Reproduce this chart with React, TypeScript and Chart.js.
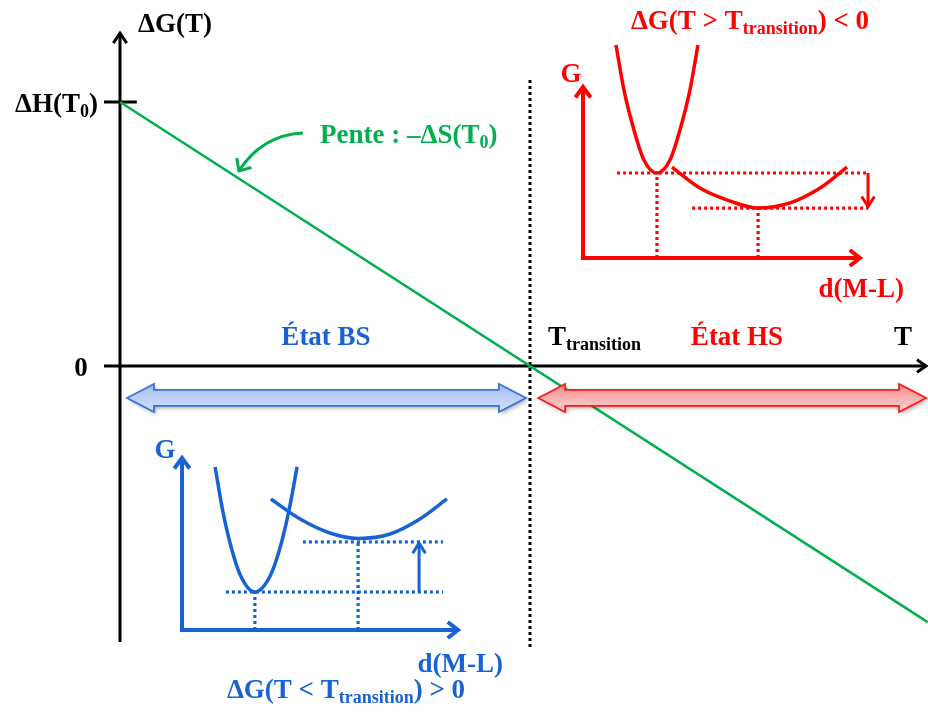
import { useEffect, useRef } from "react";
import { Chart, registerables } from "chart.js";

Chart.register(...registerables);

const W = 928;
const H = 714;

// ---------- Main diagram (T in units of T_transition, ΔG in units of ΔH(T0)) ----------
const GREEN_T = [0, 1.97];
const GREEN_DG = [1, -0.97];
const AXIS_V_T = [0, 0];
const AXIS_V_DG = [-1.045, 1.261];
const AXIS_H_T = [-0.039, 1.966];
const AXIS_H_DG = [0, 0];
const TICK_DH_T = [-0.039, 0.041];
const TICK_DH_DG = [1, 1];
const TRANS_T = [1, 1];
const TRANS_DG = [1.083, -1.064];
const BS_RANGE_T = [0.017, 0.99];
const HS_RANGE_T = [1.02, 1.966];
const STATE_ARROW_DG = -0.121;
const SLOPE_POINTER_T = [0.446, 0.346, 0.29];
const SLOPE_POINTER_DG = [0.883, 0.875, 0.739];

// ---------- Red inset (T > T_transition) : G vs d(M-L) ----------
const RED_AXIS_D = [0, 0, 10];
const RED_AXIS_G = [10, 0, 0];
const RED_LS_D = [1.19, 1.48, 1.84, 2.2, 2.67, 3.14, 3.5, 3.86, 4.15];
const RED_LS_G = [12.46, 9.82, 7.49, 5.73, 4.97, 5.73, 7.49, 9.82, 12.46];
const RED_HS_D = [3.21, 4.22, 5.31, 6.32, 7.47, 8.56, 9.53];
const RED_HS_G = [5.32, 4.09, 3.33, 2.92, 3.22, 4.09, 5.32];
const RED_LS_LEVEL_D = [1.23, 10.29];
const RED_LS_LEVEL_G = [4.97, 4.97];
const RED_HS_LEVEL_D = [3.94, 10.29];
const RED_HS_LEVEL_G = [2.92, 2.92];
const RED_LS_DROP_D = [2.67, 2.67];
const RED_LS_DROP_G = [0, 4.97];
const RED_HS_DROP_D = [6.32, 6.32];
const RED_HS_DROP_G = [0, 2.92];
const RED_DELTA_D = [10.29, 10.29];
const RED_DELTA_G = [4.97, 3.0];

// ---------- Blue inset (T < T_transition) : G vs d(M-L) ----------
const BLUE_AXIS_D = [0, 0, 10];
const BLUE_AXIS_G = [10, 0, 0];
const BLUE_LS_D = [1.2, 1.47, 1.76, 2.11, 2.64, 3.21, 3.58, 3.88, 4.17];
const BLUE_LS_G = [9.48, 6.98, 4.94, 3.2, 2.21, 3.2, 4.94, 6.98, 9.48];
const BLUE_HS_D = [3.22, 4.28, 5.36, 6.38, 7.54, 8.62, 9.6];
const BLUE_HS_G = [7.62, 6.45, 5.64, 5.32, 5.58, 6.45, 7.62];
const BLUE_LS_LEVEL_D = [1.59, 9.46];
const BLUE_LS_LEVEL_G = [2.21, 2.21];
const BLUE_HS_LEVEL_D = [4.38, 9.46];
const BLUE_HS_LEVEL_G = [5.12, 5.12];
const BLUE_LS_DROP_D = [2.64, 2.64];
const BLUE_LS_DROP_G = [0, 2.21];
const BLUE_HS_DROP_D = [6.38, 6.38];
const BLUE_HS_DROP_G = [0, 5.12];
const BLUE_DELTA_D = [8.59, 8.59];
const BLUE_DELTA_G = [2.21, 5.05];

// ---------- Colours ----------
const BLACK = "#000000";
const GREEN = "#00b050";
const RED = "#ff0000";
const BLUE = "#1763d3";
const FONT = '"Liberation Serif", "Times New Roman", serif';

// ---------- Layout: where each frame sits on the canvas ----------
function frame(ox: number, oy: number, ux: number, uy: number) {
  return {
    x: { min: -ox / ux, max: (W - ox) / ux },
    y: { min: -(H - oy) / uy, max: oy / uy },
  };
}
const MAIN_FRAME = frame(120, 366, 410, 264);
const RED_FRAME = frame(583, 258, 27.7, 17.1);
const BLUE_FRAME = frame(182, 630, 27.6, 17.2);

const pts = (xs: number[], ys: number[]) => xs.map((x, i) => ({ x, y: ys[i] }));

type Frame = "main" | "red" | "blue";
const AX: Record<Frame, [string, string]> = {
  main: ["x", "y"],
  red: ["xr", "yr"],
  blue: ["xb", "yb"],
};

function line(
  xs: number[],
  ys: number[],
  f: Frame,
  color: string,
  width: number,
  extra: Record<string, any> = {}
) {
  return {
    data: pts(xs, ys),
    xAxisID: AX[f][0],
    yAxisID: AX[f][1],
    borderColor: color,
    backgroundColor: color,
    borderWidth: width,
    pointRadius: 0,
    pointHoverRadius: 0,
    fill: false,
    tension: 0,
    borderCapStyle: "butt",
    borderJoinStyle: "miter",
    ...extra,
  };
}

const DOT = { borderDash: [3, 3] };
const CURVE = { cubicInterpolationMode: "monotone" };

const datasets: any[] = [
  // main
  line(GREEN_T, GREEN_DG, "main", GREEN, 2.5),
  line(AXIS_V_T, AXIS_V_DG, "main", BLACK, 3, { arrowEnd: [12, 34] }),
  line(AXIS_H_T, AXIS_H_DG, "main", BLACK, 3, { arrowEnd: [11, 34] }),
  line(TICK_DH_T, TICK_DH_DG, "main", BLACK, 3),
  line(TRANS_T, TRANS_DG, "main", BLACK, 3, DOT),
  // red inset
  line(RED_AXIS_D, RED_AXIS_G, "red", RED, 4, { arrowEnd: [13, 38], arrowStart: [13, 36] }),
  line(RED_LS_D, RED_LS_G, "red", RED, 3.5, CURVE),
  line(RED_HS_D, RED_HS_G, "red", RED, 3.5, CURVE),
  line(RED_LS_LEVEL_D, RED_LS_LEVEL_G, "red", RED, 3.2, DOT),
  line(RED_HS_LEVEL_D, RED_HS_LEVEL_G, "red", RED, 3.2, DOT),
  line(RED_LS_DROP_D, RED_LS_DROP_G, "red", RED, 3.2, DOT),
  line(RED_HS_DROP_D, RED_HS_DROP_G, "red", RED, 3.2, DOT),
  line(RED_DELTA_D, RED_DELTA_G, "red", RED, 3, { arrowEnd: [12, 32] }),
  // blue inset
  line(BLUE_AXIS_D, BLUE_AXIS_G, "blue", BLUE, 4, { arrowEnd: [13, 38], arrowStart: [13, 36] }),
  line(BLUE_LS_D, BLUE_LS_G, "blue", BLUE, 3.5, CURVE),
  line(BLUE_HS_D, BLUE_HS_G, "blue", BLUE, 3.5, CURVE),
  line(BLUE_LS_LEVEL_D, BLUE_LS_LEVEL_G, "blue", BLUE, 3.2, DOT),
  line(BLUE_HS_LEVEL_D, BLUE_HS_LEVEL_G, "blue", BLUE, 3.2, DOT),
  line(BLUE_LS_DROP_D, BLUE_LS_DROP_G, "blue", BLUE, 3.2, DOT),
  line(BLUE_HS_DROP_D, BLUE_HS_DROP_G, "blue", BLUE, 3.2, DOT),
  line(BLUE_DELTA_D, BLUE_DELTA_G, "blue", BLUE, 3, { arrowEnd: [12, 32] }),
];

// ---------- Labels (text with _{subscript} markup) ----------
type Label = { t: string; x: number; y: number; align: "left" | "center" | "right"; color: string; size?: number };
const LABELS: Label[] = [
  { t: "ΔG(T)", x: 138, y: 32, align: "left", color: BLACK },
  { t: "ΔH(T_{0})", x: 98, y: 112, align: "right", color: BLACK },
  { t: "0", x: 81, y: 376, align: "center", color: BLACK },
  { t: "Pente : –ΔS(T_{0})", x: 320, y: 143, align: "left", color: GREEN },
  { t: "État BS", x: 326, y: 345, align: "center", color: BLUE },
  { t: "T_{transition}", x: 548, y: 345, align: "left", color: BLACK },
  { t: "État HS", x: 737, y: 345, align: "center", color: RED },
  { t: "T", x: 903, y: 345, align: "center", color: BLACK },
  { t: "ΔG(T > T_{transition}) < 0", x: 750, y: 29, align: "center", color: RED },
  { t: "G", x: 571, y: 82, align: "center", color: RED },
  { t: "d(M-L)", x: 904, y: 297, align: "right", color: RED },
  { t: "G", x: 165, y: 458, align: "center", color: BLUE },
  { t: "d(M-L)", x: 503, y: 672, align: "right", color: BLUE },
  { t: "ΔG(T < T_{transition}) > 0", x: 346, y: 698, align: "center", color: BLUE },
];

function parseRich(t: string) {
  const segs: { s: string; sub: boolean }[] = [];
  const re = /_\{([^}]*)\}/g;
  let last = 0;
  let m: RegExpExecArray | null;
  while ((m = re.exec(t))) {
    if (m.index > last) segs.push({ s: t.slice(last, m.index), sub: false });
    segs.push({ s: m[1], sub: true });
    last = m.index + m[0].length;
  }
  if (last < t.length) segs.push({ s: t.slice(last), sub: false });
  return segs;
}

function drawRich(ctx: CanvasRenderingContext2D, lb: Label) {
  const size = lb.size ?? 27;
  const subSize = Math.round(size * 0.68);
  const segs = parseRich(lb.t);
  const widths = segs.map((sg) => {
    ctx.font = `bold ${sg.sub ? subSize : size}px ${FONT}`;
    return ctx.measureText(sg.s).width;
  });
  const total = widths.reduce((a, b) => a + b, 0);
  let x = lb.align === "left" ? lb.x : lb.align === "center" ? lb.x - total / 2 : lb.x - total;
  ctx.save();
  ctx.fillStyle = lb.color;
  ctx.textAlign = "left";
  ctx.textBaseline = "alphabetic";
  segs.forEach((sg, i) => {
    ctx.font = `bold ${sg.sub ? subSize : size}px ${FONT}`;
    ctx.fillText(sg.s, x, lb.y + (sg.sub ? size * 0.2 : 0));
    x += widths[i];
  });
  ctx.restore();
}

function chevron(
  ctx: CanvasRenderingContext2D,
  tx: number,
  ty: number,
  fx: number,
  fy: number,
  len: number,
  halfDeg: number,
  color: string,
  width: number
) {
  const a = Math.atan2(ty - fy, tx - fx);
  const h = (halfDeg * Math.PI) / 180;
  ctx.save();
  ctx.strokeStyle = color;
  ctx.lineWidth = width;
  ctx.lineJoin = "miter";
  ctx.lineCap = "butt";
  ctx.beginPath();
  ctx.moveTo(tx - len * Math.cos(a - h), ty - len * Math.sin(a - h));
  ctx.lineTo(tx, ty);
  ctx.lineTo(tx - len * Math.cos(a + h), ty - len * Math.sin(a + h));
  ctx.stroke();
  ctx.restore();
}

function fatArrow(
  ctx: CanvasRenderingContext2D,
  x1: number,
  x2: number,
  cy: number,
  top: string,
  bottom: string,
  stroke: string
) {
  const shaftH = 8;
  const headH = 14;
  const headL = 27;
  ctx.save();
  ctx.beginPath();
  ctx.moveTo(x1, cy);
  ctx.lineTo(x1 + headL, cy - headH);
  ctx.lineTo(x1 + headL, cy - shaftH);
  ctx.lineTo(x2 - headL, cy - shaftH);
  ctx.lineTo(x2 - headL, cy - headH);
  ctx.lineTo(x2, cy);
  ctx.lineTo(x2 - headL, cy + headH);
  ctx.lineTo(x2 - headL, cy + shaftH);
  ctx.lineTo(x1 + headL, cy + shaftH);
  ctx.lineTo(x1 + headL, cy + headH);
  ctx.closePath();
  const g = ctx.createLinearGradient(0, cy - headH, 0, cy + headH);
  g.addColorStop(0, top);
  g.addColorStop(1, bottom);
  ctx.fillStyle = g;
  ctx.shadowColor = "rgba(0,0,0,0.35)";
  ctx.shadowBlur = 4;
  ctx.shadowOffsetX = 2;
  ctx.shadowOffsetY = 2;
  ctx.fill();
  ctx.shadowColor = "rgba(0,0,0,0)";
  ctx.lineWidth = 1.8;
  ctx.strokeStyle = stroke;
  ctx.lineJoin = "miter";
  ctx.stroke();
  ctx.restore();
}

const diagramPlugin = {
  id: "diagram",
  afterDatasetsDraw(chart: any) {
    const ctx: CanvasRenderingContext2D = chart.ctx;
    // arrowheads at line ends
    chart.data.datasets.forEach((ds: any, i: number) => {
      const els = chart.getDatasetMeta(i).data;
      if (!els || els.length < 2) return;
      if (ds.arrowEnd) {
        const a = els[els.length - 1];
        const b = els[els.length - 2];
        chevron(ctx, a.x, a.y, b.x, b.y, ds.arrowEnd[0], ds.arrowEnd[1], ds.borderColor, ds.borderWidth);
      }
      if (ds.arrowStart) {
        const a = els[0];
        const b = els[1];
        chevron(ctx, a.x, a.y, b.x, b.y, ds.arrowStart[0], ds.arrowStart[1], ds.borderColor, ds.borderWidth);
      }
    });

    const sx = chart.scales.x;
    const sy = chart.scales.y;

    // state double arrows
    const cy = sy.getPixelForValue(STATE_ARROW_DG);
    fatArrow(
      ctx,
      sx.getPixelForValue(BS_RANGE_T[0]),
      sx.getPixelForValue(BS_RANGE_T[1]),
      cy,
      "#a4bdf2",
      "#d3e0fb",
      "#3b72dc"
    );
    fatArrow(
      ctx,
      sx.getPixelForValue(HS_RANGE_T[0]),
      sx.getPixelForValue(HS_RANGE_T[1]),
      cy,
      "#f38c8c",
      "#fdd3d3",
      "#ff1a1a"
    );

    // curved pointer toward the slope
    const p = SLOPE_POINTER_T.map((t, i) => ({
      x: sx.getPixelForValue(t),
      y: sy.getPixelForValue(SLOPE_POINTER_DG[i]),
    }));
    ctx.save();
    ctx.strokeStyle = GREEN;
    ctx.lineWidth = 3;
    ctx.beginPath();
    ctx.moveTo(p[0].x, p[0].y);
    ctx.quadraticCurveTo(p[1].x, p[1].y, p[2].x, p[2].y);
    ctx.stroke();
    ctx.restore();
    chevron(ctx, p[2].x, p[2].y, p[1].x, p[1].y, 13, 42, GREEN, 3);

    LABELS.forEach((lb) => drawRich(ctx, lb));
  },
};

function scale(r: { min: number; max: number }) {
  return {
    type: "linear",
    display: false,
    bounds: "data",
    min: r.min,
    max: r.max,
    grid: { display: false },
    ticks: { display: false },
  };
}

export default function App() {
  const ref = useRef<HTMLCanvasElement>(null);
  useEffect(() => {
    if (!ref.current) return;
    const chart = new Chart(ref.current, {
      type: "line",
      data: { datasets },
      options: {
        responsive: false,
        animation: false,
        devicePixelRatio: 1,
        layout: { padding: 0 },
        events: [],
        plugins: { legend: { display: false }, tooltip: { enabled: false } },
        scales: {
          x: scale(MAIN_FRAME.x),
          y: scale(MAIN_FRAME.y),
          xr: scale(RED_FRAME.x),
          yr: scale(RED_FRAME.y),
          xb: scale(BLUE_FRAME.x),
          yb: scale(BLUE_FRAME.y),
        },
      } as any,
      plugins: [diagramPlugin],
    } as any);
    return () => chart.destroy();
  }, []);
  return (
    <div style={{ position: "absolute", left: 0, top: 0, width: W, height: H, background: "#ffffff" }}>
      <canvas ref={ref} width={W} height={H} style={{ display: "block", width: W, height: H }} />
    </div>
  );
}
